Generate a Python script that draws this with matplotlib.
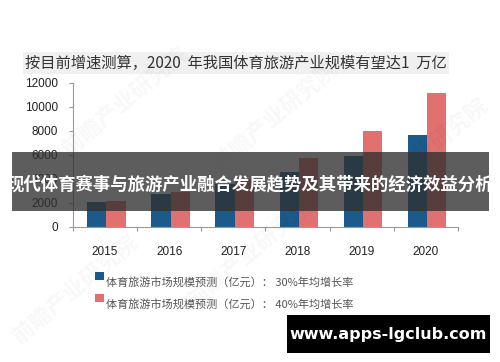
import matplotlib
matplotlib.use("Agg")
import matplotlib.pyplot as plt
import numpy as np
from matplotlib.patches import Rectangle

plt.rcParams['font.family'] = ['Noto Sans CJK SC', 'DejaVu Sans']

years = ['2015', '2016', '2017', '2018', '2019', '2020']
growth30 = [2100, 2730, 3550, 4620, 5950, 7700]
growth40 = [2150, 2950, 4000, 5780, 7970, 11180]
series_labels = ['体育旅游市场规模预测（亿元）： 30%年均增长率',
                 '体育旅游市场规模预测（亿元）： 40%年均增长率']
yticks = [0, 2000, 4000, 6000, 8000, 10000, 12000]
title = '按目前增速测算，2020  年我国体育旅游产业规模有望达1  万亿'
banner = '现代体育赛事与旅游产业融合发展趋势及其带来的经济效益分析'
site = 'www.apps-lgclub.com'

blue = '#1b5a8a'
pink = '#e2706f'

fig = plt.figure(figsize=(5, 3.62), dpi=100)
ax = fig.add_axes([0.146, 0.373, 0.77, 0.398])

x = np.arange(len(years))
w = 0.3
ax.bar(x - w / 2 + 0.02, growth30, width=w, color=blue, zorder=2)
ax.bar(x + w / 2 + 0.02, growth40, width=w, color=pink, zorder=2)

ax.set_xlim(-0.5, len(years) - 0.5)
ax.set_ylim(0, 12000)
ax.set_yticks(yticks)
ax.set_yticklabels([str(v) for v in yticks], fontsize=8.5, color='#222222',
                   family='Liberation Sans')
ax.set_xticks(np.arange(-0.5, len(years), 1.0), minor=False)
ax.set_xticklabels([])
ax.set_xticks(x, minor=True)
ax.set_xticklabels(years, minor=True, fontsize=8.5, color='#222222',
                   family='Liberation Sans')
ax.tick_params(axis='x', which='minor', length=0, pad=14)
ax.tick_params(axis='x', which='major', length=3, color='#999999', direction='out')
ax.tick_params(axis='y', length=3, color='#999999', direction='out', pad=8)
for s in ['top', 'right']:
    ax.spines[s].set_visible(False)
for s in ['left', 'bottom']:
    ax.spines[s].set_color('#999999')
    ax.spines[s].set_linewidth(0.8)

# Title
fig.text(0.05, 1 - 63 / 362, title, fontsize=11, color='#333333', va='center', ha='left',
         bbox=dict(facecolor='#f0f0f0', edgecolor='none', pad=1.5))

# Legend
for i, (lab, col) in enumerate(zip(series_labels, [blue, pink])):
    yy = 1 - (280 + i * 22) / 362
    fig.patches.append(Rectangle((95 / 500, yy), 9 / 500, 8 / 362, transform=fig.transFigure,
                                 facecolor=col, edgecolor='none'))
    fig.text(106 / 500, yy - 2 / 362, lab, fontsize=8, color='#555555', va='center', ha='left')

# Watermarks (faint)
for (wx, wy) in [(0.25, 0.72), (0.55, 0.68), (0.85, 0.58), (0.15, 0.2), (0.5, 0.3)]:
    fig.text(wx, wy, '前瞻产业研究院', fontsize=16, color='#000000', alpha=0.03,
             rotation=40, ha='center', va='center', fontweight='bold')

# Banner
fig.patches.append(Rectangle((12 / 500, 1 - 211 / 362), 477 / 500, 59 / 362,
                             transform=fig.transFigure, facecolor='#303030', alpha=0.78,
                             edgecolor='none', zorder=5))
fig.text(0.5, 1 - 184 / 362, banner, fontsize=12.5, color='white', fontweight='bold',
         ha='center', va='center', zorder=6)

# Site box
fig.patches.append(Rectangle((287 / 500, 1 - 353 / 362), 203 / 500, 38 / 362,
                             transform=fig.transFigure, facecolor='black', edgecolor='none',
                             zorder=5))
fig.text(388 / 500, 1 - 334 / 362, site, fontsize=11.5, color='white', fontweight='bold',
         ha='center', va='center', family='DejaVu Sans', zorder=6)

fig.savefig('out.png', dpi=100)
